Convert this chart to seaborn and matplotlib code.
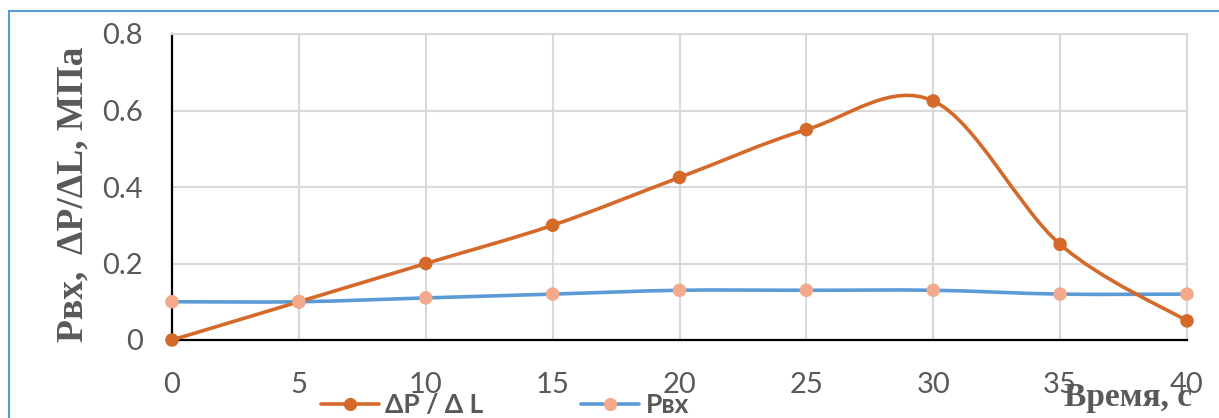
import numpy as np
import pandas as pd
import seaborn as sns
import matplotlib.pyplot as plt
from matplotlib.path import Path
from matplotlib.patches import PathPatch, Rectangle
from matplotlib.lines import Line2D

# Time, s
time_s = [0, 5, 10, 15, 20, 25, 30, 35, 40]
# Pressure gradient ΔP/ΔL, MPa
dp_dl = [0.0, 0.1, 0.2, 0.3, 0.425, 0.55, 0.625, 0.25, 0.05]
# Inlet pressure Pвх, MPa
p_in = [0.1, 0.1, 0.11, 0.12, 0.13, 0.13, 0.13, 0.12, 0.12]

series_labels = ["ΔP / Δ L", "Pвх"]
x_ticks = [0, 5, 10, 15, 20, 25, 30, 35, 40]
y_ticks = [0, 0.2, 0.4, 0.6, 0.8]

ORANGE = "#D4692A"
BLUE = "#5B9BD5"
SALMON = "#F2A98C"
GRID = "#D9D9D9"
TEXT = "#595959"

sns.set_theme(style="white")
plt.rcParams["font.family"] = ["Lato", "DejaVu Sans"]


def smooth_path(xs, ys):
    """Cubic Bezier path through the points (Catmull-Rom style tangents)."""
    pts = np.column_stack([xs, ys]).astype(float)
    n = len(pts)
    verts = [pts[0]]
    codes = [Path.MOVETO]
    for i in range(n - 1):
        p0 = pts[i - 1] if i > 0 else pts[i]
        p1 = pts[i]
        p2 = pts[i + 1]
        p3 = pts[i + 2] if i + 2 < n else pts[i + 1]
        c1 = p1 + (p2 - p0) / 6.0
        c2 = p2 - (p3 - p1) / 6.0
        verts += [c1, c2, p2]
        codes += [Path.CURVE4] * 3
    return Path(verts, codes)


fig = plt.figure(figsize=(12.19, 4.18), dpi=100)
ax = fig.add_axes([172 / 1219, 1 - 340 / 418, (1187 - 172) / 1219, (340 - 34) / 418])

df = pd.DataFrame({"t": time_s, "dp": dp_dl, "pin": p_in})

# Smoothed lines
ax.add_patch(PathPatch(smooth_path(df["t"], df["pin"]), fill=False,
                       edgecolor=BLUE, lw=2.6, zorder=3, clip_on=False,
                       capstyle="round"))
ax.add_patch(PathPatch(smooth_path(df["t"], df["dp"]), fill=False,
                       edgecolor=ORANGE, lw=2.6, zorder=4, clip_on=False,
                       capstyle="round"))

# Markers
sns.scatterplot(data=df, x="t", y="dp", ax=ax, color=ORANGE, s=95,
                edgecolor="none", zorder=5, clip_on=False, legend=False)
sns.scatterplot(data=df, x="t", y="pin", ax=ax, color=SALMON, s=95,
                edgecolor="none", zorder=6, clip_on=False, legend=False)

ax.set_xlim(0, 40)
ax.set_ylim(0, 0.8)
ax.set_xticks(x_ticks)
ax.set_yticks(y_ticks)
ax.set_xticklabels([str(v) for v in x_ticks])
ax.set_yticklabels(["0" if v == 0 else f"{v:.1f}" for v in y_ticks])
ax.tick_params(axis="x", length=0, pad=23, labelsize=21, labelcolor=TEXT)
ax.tick_params(axis="y", length=0, pad=21, labelsize=21, labelcolor=TEXT)
ax.set_xlabel("")
ax.set_ylabel("")

ax.grid(True, color=GRID, lw=1.5)
ax.set_axisbelow(True)
for side in ("top", "right"):
    ax.spines[side].set_color(GRID)
    ax.spines[side].set_linewidth(1.5)
for side in ("left", "bottom"):
    ax.spines[side].set_color("black")
    ax.spines[side].set_linewidth(1.6)
    ax.spines[side].set_zorder(2.5)

# Axis titles
fig.text(73 / 1219, 1 - 194 / 418, "Pвх,  ΔP/ΔL, МПа", rotation=90,
         ha="center", va="center", fontsize=27, fontweight="bold",
         color=TEXT, family=["Liberation Serif", "DejaVu Serif"])
fig.text(1192 / 1219, 1 - 406 / 418, "Время, с", ha="right", va="baseline",
         fontsize=24, fontweight="bold", color=TEXT,
         family=["Liberation Serif", "DejaVu Serif"])

# Legend
handles = [
    Line2D([], [], color=ORANGE, lw=2.6, marker="o", markersize=9.5,
           markerfacecolor=ORANGE, markeredgecolor="none"),
    Line2D([], [], color=BLUE, lw=2.6, marker="o", markersize=9.5,
           markerfacecolor=SALMON, markeredgecolor="none"),
]
fig.legend(handles, series_labels, loc="center", ncol=2, frameon=False,
           bbox_to_anchor=(505 / 1219, 1 - 405 / 418),
           prop={"family": ["Lato", "DejaVu Sans"], "weight": "bold", "size": 19},
           labelcolor=TEXT, handlelength=2.2, handletextpad=0.25,
           columnspacing=3.7, borderpad=0)

# Chart-area frame
fig.add_artist(Rectangle((8.5 / 1219, -0.1), 1.2, 1 - 10.5 / 418 + 0.1,
                         transform=fig.transFigure, fill=False,
                         edgecolor=BLUE, lw=1.5, zorder=0))

fig.savefig("out.png", dpi=100)
